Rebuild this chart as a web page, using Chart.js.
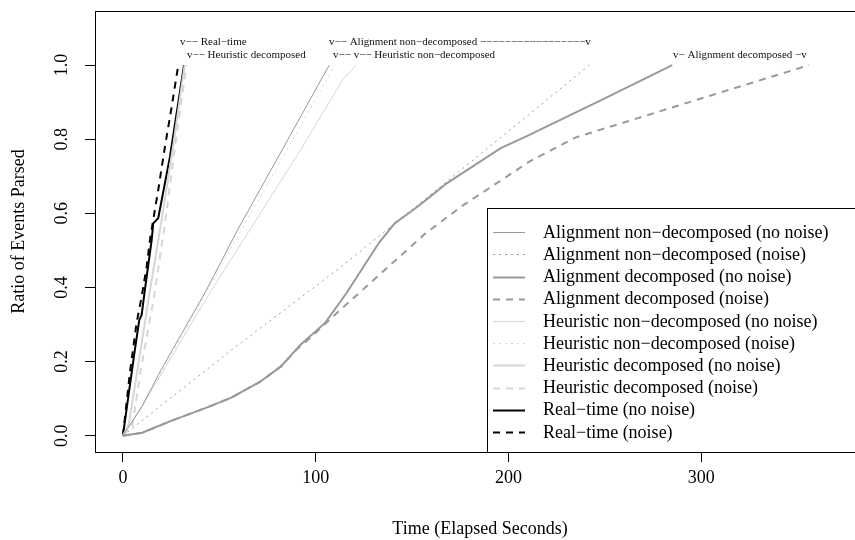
<!DOCTYPE html>
<html>
<head>
<meta charset="utf-8">
<script src="https://cdn.jsdelivr.net/npm/chart.js@4/dist/chart.umd.min.js"></script>
<style>
    html, body { margin: 0; padding: 0; background: #fff; overflow: hidden; }
    #wrap { width: 870px; height: 540px; }
</style>
</head>
<body>
<div id="wrap"><canvas id="chart" width="870" height="540"></canvas></div>
<script>
    // axis ticks
    var xTicks = [0, 100, 200, 300];
    var xTickLabels = ['0', '100', '200', '300'];
    var yTicks = [0, 0.2, 0.4, 0.6, 0.8, 1.0];
    var yTickLabels = ['0.0', '0.2', '0.4', '0.6', '0.8', '1.0'];

    // [elapsed seconds, ratio parsed]
    var alignNonDecNoNoise = [[0, 0], [10, 0.08], [20, 0.18], [43, 0.39], [60, 0.56], [83, 0.775], [107, 1.0]];
    var alignNonDecNoise = [[0, 0], [56, 0.23], [113, 0.455], [169, 0.69], [242, 1.0]];
    var alignDecNoNoise = [[0, 0], [10, 0.008], [25, 0.04], [43, 0.075], [56, 0.102], [71, 0.145], [82, 0.187],
        [92, 0.245], [105, 0.305], [116, 0.385], [133, 0.522], [141, 0.573], [150, 0.607], [157, 0.635],
        [168, 0.681], [196, 0.776], [209, 0.807], [250, 0.91], [285, 1.0]];
    var alignDecNoise = [[0, 0], [10, 0.008], [25, 0.04], [43, 0.075], [56, 0.102], [71, 0.145], [82, 0.187],
        [90, 0.232], [95, 0.254], [112, 0.336], [133, 0.434], [157, 0.546], [176, 0.62], [195, 0.685],
        [211, 0.74], [235, 0.805], [300, 0.91], [356, 1.0]];
    var heurNonDecNoNoise = [[0, 0], [10, 0.08], [45, 0.385], [92, 0.77], [114, 0.96], [121, 1.0]];
    var heurNonDecNoise = [[0, 0], [10, 0.08], [50, 0.45], [85, 0.77], [110, 1.0]];
    var heurDecNoNoise = [[0, 0], [3, 0.03], [7, 0.16], [13, 0.36], [20, 0.58], [26, 0.78], [32, 1.0]];
    var heurDecNoise = [[0, 0], [5, 0.03], [9, 0.17], [16, 0.37], [22, 0.58], [27, 0.78], [33, 1.0]];
    var realTimeNoNoise = [[0, 0], [2.8, 0.106], [6.2, 0.232], [8.5, 0.313], [9.7, 0.326], [11.4, 0.394],
        [14.9, 0.528], [15.7, 0.573], [18.3, 0.587], [24.4, 0.753], [31.7, 1.0]];
    var realTimeNoise = [[0, 0], [3.6, 0.17], [7.1, 0.305], [9.7, 0.375], [12.3, 0.456], [14, 0.528],
        [15.7, 0.582], [18.3, 0.663], [21.8, 0.78], [25.3, 0.888], [28.7, 1.0]];

    // notes above the line ends
    var noteTexts = ['v\u2212\u2212 Real\u2212time', 'v\u2212\u2212 Heuristic decomposed',
        'v\u2212\u2212 Alignment non\u2212decomposed \u2212\u2212\u2212\u2212\u2212\u2212\u2212\u2212\u2212\u2212\u2212\u2212\u2212\u2212\u2212\u2212\u2212v',
        'v\u2212\u2212 v\u2212\u2212 Heuristic non\u2212decomposed', 'v\u2212 Alignment decomposed \u2212v'];
    var noteTimes = [29.6, 33.2, 106.9, 109, 285.4];
    var noteRatios = [1.062, 1.027, 1.062, 1.027, 1.027];

    var serif = "'Liberation Serif', 'DejaVu Serif', serif";
    Chart.defaults.font.family = serif;
    Chart.defaults.color = '#000';

    function toPoints(pairs) {
        return pairs.map(function (p) { return { x: p[0], y: p[1] }; });
    }

    function series(label, pairs, color, width, dash) {
        return {
            label: label,
            data: toPoints(pairs),
            borderColor: color,
            borderWidth: width,
            borderDash: dash,
            pointRadius: 0,
            fill: false,
            tension: 0
        };
    }

    var alignGray = '#999999';
    var heurGray = '#d6d6d6';
    var dotted = [2, 4];
    var dashed = [7, 6];

    var datasets = [
        series('Alignment non\u2212decomposed (no noise)', alignNonDecNoNoise, alignGray, 1, []),
        series('Alignment non\u2212decomposed (noise)', alignNonDecNoise, alignGray, 1, dotted),
        series('Alignment decomposed (no noise)', alignDecNoNoise, alignGray, 2, []),
        series('Alignment decomposed (noise)', alignDecNoise, alignGray, 2, dashed),
        series('Heuristic non\u2212decomposed (no noise)', heurNonDecNoNoise, heurGray, 1, []),
        series('Heuristic non\u2212decomposed (noise)', heurNonDecNoise, heurGray, 1, dotted),
        series('Heuristic decomposed (no noise)', heurDecNoNoise, heurGray, 2, []),
        series('Heuristic decomposed (noise)', heurDecNoise, heurGray, 2, dashed),
        series('Real\u2212time (no noise)', realTimeNoNoise, '#000000', 2, []),
        series('Real\u2212time (noise)', realTimeNoise, '#000000', 2, dashed)
    ];

    var frameBox = {
        id: 'frameBox',
        afterDatasetsDraw: function (chart) {
            var a = chart.chartArea;
            var ctx = chart.ctx;
            ctx.save();
            ctx.strokeStyle = '#000';
            ctx.lineWidth = 1;
            ctx.strokeRect(Math.round(a.left) + 0.5, Math.round(a.top) + 0.5,
                Math.round(a.right - a.left), Math.round(a.bottom - a.top));
            ctx.restore();
        }
    };

    var lineNotes = {
        id: 'lineNotes',
        afterDatasetsDraw: function (chart) {
            var ctx = chart.ctx;
            var xs = chart.scales.x;
            var ys = chart.scales.y;
            ctx.save();
            ctx.font = '11px ' + serif;
            ctx.fillStyle = '#111';
            ctx.textAlign = 'left';
            ctx.textBaseline = 'middle';
            noteTexts.forEach(function (text, i) {
                ctx.fillText(text, xs.getPixelForValue(noteTimes[i]), ys.getPixelForValue(noteRatios[i]));
            });
            ctx.restore();
        }
    };

    // legend box in the bottom right corner, like R's legend("bottomright")
    var cornerLegend = {
        id: 'cornerLegend',
        afterDraw: function (chart) {
            var ctx = chart.ctx;
            var a = chart.chartArea;
            var sets = chart.data.datasets;
            var rowH = 22.2;
            var height = sets.length * rowH + 22;
            var top = a.bottom - height;
            var left = 487;
            ctx.save();
            ctx.fillStyle = '#fff';
            ctx.fillRect(left, top, a.right - left, height);
            ctx.strokeStyle = '#000';
            ctx.lineWidth = 1;
            ctx.strokeRect(left + 0.5, Math.round(top) + 0.5, a.right - left, a.bottom - Math.round(top));
            ctx.font = '18px ' + serif;
            ctx.textAlign = 'left';
            ctx.textBaseline = 'middle';
            sets.forEach(function (ds, i) {
                var y = top + 13 + rowH / 2 + i * rowH;
                ctx.beginPath();
                ctx.strokeStyle = ds.borderColor;
                ctx.lineWidth = ds.borderWidth;
                ctx.setLineDash(ds.borderDash);
                ctx.moveTo(left + 6, Math.round(y) + 0.5);
                ctx.lineTo(left + 38, Math.round(y) + 0.5);
                ctx.stroke();
                ctx.setLineDash([]);
                ctx.fillStyle = '#000';
                ctx.fillText(ds.label, left + 56, y + 1);
            });
            ctx.restore();
        }
    };

    new Chart(document.getElementById('chart'), {
        type: 'line',
        data: { datasets: datasets },
        plugins: [frameBox, lineNotes, cornerLegend],
        options: {
            responsive: false,
            animation: false,
            layout: { padding: { top: 11, right: 5, left: 0, bottom: 0 } },
            plugins: {
                legend: { display: false },
                tooltip: { enabled: false }
            },
            scales: {
                x: {
                    type: 'linear',
                    min: -14.5,
                    max: 385,
                    afterBuildTicks: function (scale) {
                        scale.ticks = xTicks.map(function (v) { return { value: v }; });
                    },
                    afterFit: function (scale) {
                        scale.height = 88;
                        scale.paddingLeft = 0;
                        scale.paddingRight = 0;
                    },
                    ticks: {
                        font: { size: 18 },
                        padding: 5,
                        maxRotation: 0,
                        callback: function (v, i) { return xTickLabels[i]; }
                    },
                    grid: { drawOnChartArea: false, drawTicks: true, tickLength: 10, color: '#000' },
                    border: { display: false },
                    title: {
                        display: true,
                        text: 'Time (Elapsed Seconds)',
                        font: { size: 18 },
                        padding: { top: 0, bottom: 0 }
                    }
                },
                y: {
                    type: 'linear',
                    min: -0.044,
                    max: 1.146,
                    afterBuildTicks: function (scale) {
                        scale.ticks = yTicks.map(function (v) { return { value: v }; });
                    },
                    afterFit: function (scale) {
                        scale.width = 95;
                        scale.paddingTop = 0;
                        scale.paddingBottom = 0;
                    },
                    ticks: {
                        font: { size: 18 },
                        padding: 11,
                        minRotation: 90,
                        maxRotation: 90,
                        crossAlign: 'center',
                        callback: function (v, i) { return yTickLabels[i]; }
                    },
                    grid: { drawOnChartArea: false, drawTicks: true, tickLength: 10, color: '#000' },
                    border: { display: false },
                    title: {
                        display: true,
                        text: 'Ratio of Events Parsed',
                        font: { size: 18 },
                        padding: { top: 8, bottom: 0 }
                    }
                }
            }
        }
    });
</script>
</body>
</html>
